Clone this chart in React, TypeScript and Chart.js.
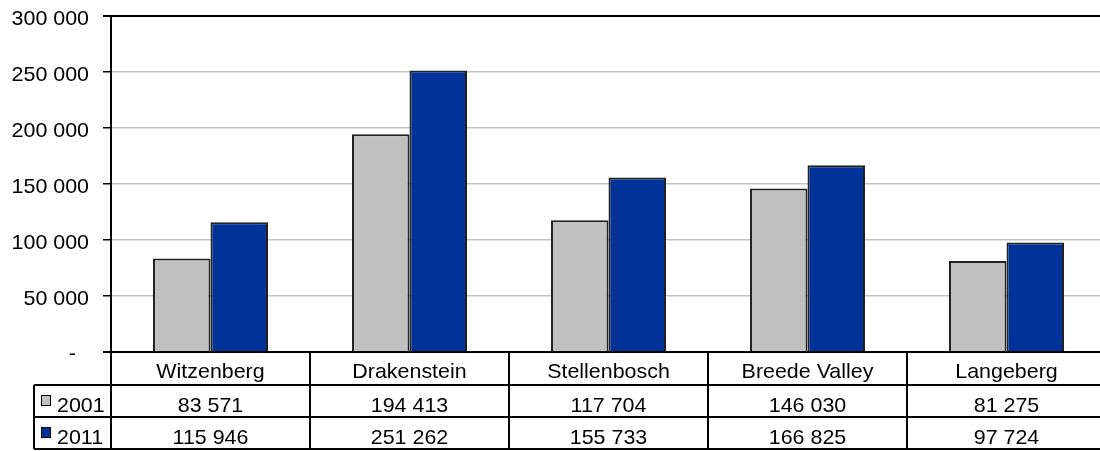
import React, { useEffect, useRef } from "react";
import { Chart, registerables } from "chart.js";

Chart.register(...registerables);

const categories = ["Witzenberg", "Drakenstein", "Stellenbosch", "Breede Valley", "Langeberg"];
const seriesNames = ["2001", "2011"];
const values2001 = [83571, 194413, 117704, 146030, 81275];
const values2011 = [115946, 251262, 155733, 166825, 97724];
const seriesColors = ["#c0c0c0", "#003399"];
const yTicks = [0, 50000, 100000, 150000, 200000, 250000, 300000];

const FONT = "'Liberation Sans', Arial, sans-serif";
const SX = 1.02;

function fmt(v: number): string {
  if (v === 0) return "-";
  return String(Math.round(v)).replace(/\B(?=(\d{3})+(?!\d))/g, " ");
}

function drawText(ctx: CanvasRenderingContext2D, text: string, x: number, y: number, align: CanvasTextAlign) {
  ctx.save();
  ctx.translate(x, y);
  ctx.scale(SX, 1);
  ctx.textAlign = align;
  ctx.fillText(text, 0, 0);
  ctx.restore();
}

const tablePlugin = {
  id: "dataTable",
  afterDraw(chart: any) {
    const ctx = chart.ctx as CanvasRenderingContext2D;
    const area = chart.chartArea;
    const n = categories.length;
    const w = (area.right - area.left) / n;
    const top = area.bottom;
    const r1 = top + 33;
    const r2 = r1 + 32;
    const r3 = r2 + 32;
    const legendLeft = 34;
    ctx.save();
    ctx.strokeStyle = "#000";
    ctx.lineWidth = 2;
    ctx.beginPath();
    ctx.moveTo(area.left, top);
    ctx.lineTo(chart.width, top);
    [r1, r2, r3].forEach((y) => {
      ctx.moveTo(legendLeft, y);
      ctx.lineTo(chart.width, y);
    });
    for (let i = 0; i <= n; i++) {
      const x = area.left + i * w;
      ctx.moveTo(x, top);
      ctx.lineTo(x, r3);
    }
    ctx.moveTo(legendLeft, r1);
    ctx.lineTo(legendLeft, r3);
    ctx.stroke();

    ctx.fillStyle = "#000";
    ctx.font = `21px ${FONT}`;
    ctx.textBaseline = "alphabetic";

    const ys = chart.scales.y;
    yTicks.forEach((v) => {
      const y = ys.getPixelForValue(v);
      if (v === 0) drawText(ctx, "-", 76, y + 8, "right");
      else drawText(ctx, fmt(v), 89, y + 8.5, "right");
    });

    const rows = [values2001, values2011];
    for (let i = 0; i < n; i++) {
      const cx = area.left + (i + 0.5) * w;
      drawText(ctx, categories[i], cx, top + 26, "center");
      drawText(ctx, fmt(rows[0][i]), cx, r1 + 27, "center");
      drawText(ctx, fmt(rows[1][i]), cx, r2 + 27, "center");
    }
    [r1, r2].forEach((y, k) => {
      ctx.fillStyle = seriesColors[k];
      ctx.fillRect(41, y + 10, 9, 10);
      ctx.lineWidth = 1;
      ctx.strokeStyle = "#000";
      ctx.strokeRect(41.5, y + 10.5, 9, 10);
      ctx.fillStyle = "#000";
      drawText(ctx, seriesNames[k], 57, y + 27, "left");
    });
    ctx.restore();
  },
};

export default function App() {
  const ref = useRef<HTMLCanvasElement | null>(null);
  useEffect(() => {
    if (!ref.current) return;
    const chart = new Chart(ref.current, {
      type: "bar",
      data: {
        labels: categories,
        datasets: [
          {
            label: seriesNames[0],
            data: values2001,
            backgroundColor: seriesColors[0],
            borderColor: "#222",
            borderWidth: 2,
            categoryPercentage: 0.578,
            barPercentage: 1,
          },
          {
            label: seriesNames[1],
            data: values2011,
            backgroundColor: seriesColors[1],
            borderColor: "#222",
            borderWidth: 2,
            categoryPercentage: 0.578,
            barPercentage: 1,
          },
        ],
      },
      options: {
        responsive: false,
        animation: false,
        layout: { padding: { top: 16, bottom: 99, left: 0, right: 2 } },
        plugins: { legend: { display: false }, tooltip: { enabled: false } },
        scales: {
          x: { display: false },
          y: {
            min: 0,
            max: 300000,
            afterFit: (scale: any) => {
              scale.width = 111;
            },
            ticks: {
              stepSize: 50000,
              display: false,
            },
            grid: {
              color: (c: any) =>
                c.tick && (c.tick.value === 300000 || c.tick.value === 0) ? "#000" : "#c4c4c4",
              lineWidth: (c: any) =>
                c.tick && (c.tick.value === 300000 || c.tick.value === 0) ? 2 : 1.5,
              tickColor: "#000",
              tickLength: 8,
              drawTicks: true,
            },
            border: { display: true, color: "#000", width: 2 },
          },
        },
      },
      plugins: [tablePlugin],
    });
    return () => chart.destroy();
  }, []);
  return (
    <div style={{ position: "absolute", left: 0, top: 0, width: 1100, height: 451, overflow: "hidden", background: "#fff" }}>
      <canvas ref={ref} width={1108} height={451} style={{ display: "block" }} />
    </div>
  );
}
